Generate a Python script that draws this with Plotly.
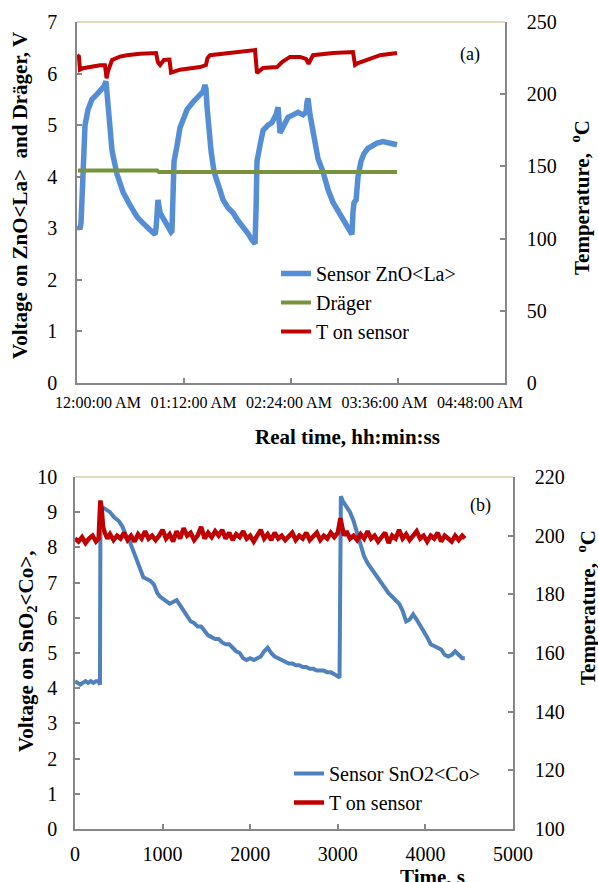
import plotly.graph_objects as go

# ---------------- Panel (a) data ----------------
# time in minutes after 12:00:00 AM
zno_t = [0.7, 2.0, 2.7, 3.4, 4.0, 5.4, 7.4, 10.1, 13.5, 16.2, 18.2, 19.5, 20.2, 21.5, 23.6, 26.9,
         31.0, 35.7, 40.4, 44.4, 47.1, 50.5, 52.5, 53.2, 53.8, 54.5, 55.9, 58.5, 61.2, 63.3, 63.9,
         64.6, 65.3, 67.3, 69.3, 72.0, 74.0, 78.1, 81.4, 84.8, 86.1, 86.8, 87.5, 88.8, 90.2, 92.2,
         95.6, 98.3, 101.6, 105.0, 108.3, 111.7, 115.1, 117.8, 119.8, 120.5, 121.1, 123.1, 125.2,
         128.5, 131.2, 133.9, 135.3, 136.6, 138.6, 142.0, 145.4, 148.7, 152.1, 154.1, 154.8, 155.4,
         156.8, 159.5, 162.2, 165.5, 168.9, 172.3, 176.3, 180.4, 183.7, 185.0, 185.7, 186.4, 187.8,
         189.1, 191.1, 193.1, 195.8, 198.5, 201.9, 205.9, 210.6, 215.3]
zno_v = [3.05, 2.98, 3.1, 3.6, 4.6, 5.0, 5.3, 5.5, 5.6, 5.7, 5.75, 5.85, 5.6, 5.0, 4.5, 4.05,
         3.7, 3.45, 3.22, 3.1, 3.03, 2.93, 2.88, 3.0, 3.5, 3.55, 3.3, 3.15, 3.0, 2.93, 2.95,
         4.0, 4.3, 4.6, 4.95, 5.15, 5.3, 5.45, 5.55, 5.65, 5.78, 5.7, 5.35, 4.9, 4.5, 4.1,
         3.8, 3.55, 3.4, 3.3, 3.15, 3.03, 2.9, 2.77, 2.7, 3.4, 4.3, 4.6, 4.9,
         5.0, 5.05, 5.2, 5.35, 4.85, 4.95, 5.15, 5.2, 5.25, 5.2, 5.25, 5.45, 5.52,
         5.2, 4.7, 4.35, 4.1, 3.75, 3.5, 3.3, 3.12, 2.95, 2.88, 3.3, 3.5, 3.55,
         4.0, 4.3, 4.45, 4.55, 4.6, 4.65, 4.68, 4.65, 4.62]

drager_t = [0.7, 54.0, 55.0, 215.3]
drager_v = [4.12, 4.12, 4.09, 4.09]

tempa_t = [0.0, 1.3, 2.0, 4.0, 15.5, 18.8, 19.9, 20.9, 23.6, 28.9, 33.6, 42.4, 53.2, 54.5, 55.9,
           58.5, 62.2, 63.3, 69.3, 82.8, 86.8, 87.8, 89.5, 105.0, 119.8, 120.5, 121.1, 125.2,
           134.6, 138.0, 143.3, 150.1, 154.1, 155.8, 158.8, 172.3, 185.7, 187.1, 189.1, 195.2,
           203.9, 215.3]
tempa_v = [227, 226, 217, 218, 220, 220, 211, 216, 223.7, 226, 227, 228, 228.5, 222, 220.2,
           223.7, 224, 215, 217, 218.8, 220.2, 225, 227, 229.2, 230.6, 222, 214.7, 218.1,
           218.8, 222.3, 225.8, 225.8, 224.5, 221, 227, 228.5, 229.2, 220.2, 221.5, 223.7,
           227, 228.5]

time_ticks = [0, 72, 144, 216, 288]
time_labels = ["12:00:00 AM", "01:12:00 AM", "02:24:00 AM", "03:36:00 AM", "04:48:00 AM"]

# ---------------- Panel (b) data ----------------
sno_t = [0, 30, 60, 90, 120, 150, 180, 210, 240, 270, 285, 290, 300, 340, 400, 450, 500, 540,
         580, 620, 660, 700, 740, 780, 820, 860, 900, 940, 970, 1000, 1040, 1080, 1120, 1160,
         1200, 1240, 1280, 1320, 1360, 1400, 1440, 1480, 1520, 1560, 1600, 1640, 1680, 1720,
         1760, 1800, 1840, 1880, 1920, 1960, 2000, 2040, 2080, 2120, 2160, 2200, 2240, 2280,
         2320, 2360, 2400, 2440, 2480, 2520, 2560, 2600, 2640, 2680, 2720, 2760, 2800, 2840,
         2880, 2920, 2960, 3000, 3020, 3035, 3060, 3100, 3140, 3180, 3220, 3260, 3300, 3340,
         3380, 3420, 3460, 3500, 3540, 3580, 3620, 3660, 3700, 3740, 3780, 3820, 3860, 3900,
         3940, 3980, 4020, 4060, 4100, 4140, 4180, 4220, 4260, 4300, 4340, 4380, 4420, 4450]
sno_v = [4.2, 4.15, 4.1, 4.15, 4.2, 4.15, 4.2, 4.15, 4.2, 4.2, 4.1, 8.5, 9.15, 9.1, 9.0, 8.85,
         8.75, 8.6, 8.35, 8.2, 7.95, 7.65, 7.4, 7.15, 7.1, 7.05, 6.95, 6.7, 6.6, 6.55, 6.45, 6.4,
         6.45, 6.5, 6.35, 6.2, 6.05, 5.9, 5.85, 5.75, 5.75, 5.6, 5.5, 5.45, 5.4, 5.4, 5.3, 5.25,
         5.25, 5.15, 5.05, 5.0, 4.85, 4.8, 4.85, 4.8, 4.85, 4.9, 5.05, 5.15, 5.0, 4.9, 4.85, 4.8,
         4.75, 4.7, 4.7, 4.65, 4.65, 4.6, 4.6, 4.55, 4.55, 4.5, 4.5, 4.5, 4.45, 4.45, 4.4, 4.35,
         4.3, 9.45, 9.3, 9.15, 9.0, 8.75, 8.4, 8.0, 7.75, 7.55, 7.4, 7.25, 7.1, 7.0, 6.85, 6.7,
         6.6, 6.5, 6.4, 6.2, 5.9, 5.95, 6.1, 5.95, 5.8, 5.65, 5.45, 5.25, 5.2, 5.15, 5.1, 4.95,
         4.9, 4.95, 5.05, 4.95, 4.85, 4.85]

tempb_t = [0, 40, 80, 120, 160, 200, 240, 270, 280, 290, 305, 320, 340, 370, 400, 440, 480, 520,
           560, 600, 640, 680, 720, 760, 800, 840, 880, 920, 960, 1000, 1040, 1080, 1120, 1160,
           1200, 1240, 1280, 1320, 1360, 1400, 1440, 1480, 1520, 1560, 1600, 1640, 1680, 1720,
           1760, 1800, 1840, 1880, 1920, 1960, 2000, 2040, 2080, 2120, 2160, 2200, 2240, 2280,
           2320, 2360, 2400, 2440, 2480, 2520, 2560, 2600, 2640, 2680, 2720, 2760, 2800, 2840,
           2880, 2920, 2960, 3000, 3030, 3045, 3070, 3100, 3140, 3180, 3220, 3260, 3300, 3340,
           3380, 3420, 3460, 3500, 3540, 3580, 3620, 3660, 3700, 3740, 3780, 3820, 3860, 3900,
           3940, 3980, 4020, 4060, 4100, 4140, 4180, 4220, 4260, 4300, 4340, 4380, 4420, 4450]
tempb_v = [199, 198, 199.5, 197.5, 199, 200, 198, 199, 206, 212, 209, 203, 201, 199, 200.5, 198.5,
           200, 199, 201, 198.5, 200, 198, 200.5, 199, 201.5, 199, 200, 198.5, 200, 202, 199,
           200.5, 198, 201.5, 199, 202.5, 200, 201, 198.5, 200, 203, 199, 201, 199.5, 201.5, 200,
           202, 199, 201, 198.5, 200.5, 199.5, 201.5, 199, 200, 198, 200, 202, 199, 200.5, 198.5,
           201, 199, 200, 198.5, 199.5, 201, 198.5, 200, 199, 201, 198.5, 199.5, 201, 198.5, 200,
           199, 201, 199.5, 201, 206, 203, 200, 201.5, 199, 200, 198.5, 200.5, 199, 201.5, 199,
           200, 198, 199.5, 201, 197.5, 200, 199, 202, 199, 200.5, 198.5, 200, 201.5, 199, 200,
           198, 200, 199, 201, 198, 200, 199, 198, 200, 198.5, 200, 199]

# ---------------- styling ----------------
W, H = 598, 882
FONT = "Liberation Serif, Times New Roman, serif"
AX = "#868686"
BLUE_A = "#558ED5"
BLUE_B = "#4F81BD"
GREEN = "#77933C"
RED = "#C00000"

# plot-area pixel boxes
A_L, A_R, A_T, A_B = 77, 505, 22, 383
B_L, B_R, B_T, B_B = 75, 513, 477, 829
# Excel spreads the date labels evenly between these centres (not on the ticks)
LAB_FIRST, LAB_LAST = 98, 480


def px(x):
    return x / W


def py(y):
    return 1 - y / H


fig = go.Figure()

fig.add_trace(go.Scatter(x=zno_t, y=zno_v, mode="lines", name="Sensor ZnO&lt;La&gt;",
                         line=dict(color=BLUE_A, width=5.5), xaxis="x", yaxis="y", legend="legend"))
fig.add_trace(go.Scatter(x=drager_t, y=drager_v, mode="lines", name="Dräger",
                         line=dict(color=GREEN, width=4), xaxis="x", yaxis="y", legend="legend"))
fig.add_trace(go.Scatter(x=tempa_t, y=tempa_v, mode="lines", name="T on sensor",
                         line=dict(color=RED, width=4), xaxis="x", yaxis="y2", legend="legend"))
# carrier (no visible marks) for the label-only time axis
fig.add_trace(go.Scatter(x=[time_ticks[0]], y=[None], mode="lines", showlegend=False,
                         hoverinfo="skip", xaxis="x3", yaxis="y"))

fig.add_trace(go.Scatter(x=sno_t, y=sno_v, mode="lines", name="Sensor SnO2&lt;Co&gt;",
                         line=dict(color=BLUE_B, width=4), xaxis="x2", yaxis="y3", legend="legend2"))
fig.add_trace(go.Scatter(x=tempb_t, y=tempb_v, mode="lines", name="T on sensor",
                         line=dict(color=RED, width=4.5), xaxis="x2", yaxis="y4", legend="legend2"))

common = dict(showgrid=False, zeroline=False, showline=True, linecolor=AX, linewidth=1.5,
              ticks="inside", ticklen=5, tickcolor=AX, tickwidth=1.5, automargin=False,
              tickfont=dict(family=FONT, size=20, color="black"))

# range of the label axis so that first/last labels sit at LAB_FIRST / LAB_LAST
span = time_ticks[-1] - time_ticks[0]
scale = (LAB_LAST - LAB_FIRST) / span
lab_r0 = time_ticks[0] - (LAB_FIRST - A_L) / scale
lab_r1 = lab_r0 + (A_R - A_L) / scale

fig.update_layout(
    width=W, height=H,
    margin=dict(l=0, r=0, t=0, b=0, autoexpand=False),
    paper_bgcolor="white", plot_bgcolor="white",
    font=dict(family=FONT, color="black"),
    xaxis=dict(common, domain=[px(A_L), px(A_R)], anchor="y", range=[0, 288],
               tickvals=time_ticks, showticklabels=False),
    xaxis3=dict(overlaying="x", anchor="y", side="bottom", range=[lab_r0, lab_r1],
                tickvals=time_ticks, ticktext=time_labels, showline=False, showgrid=False,
                zeroline=False, ticks="", automargin=False, ticklabelstandoff=8,
                tickfont=dict(family=FONT, size=16, color="black")),
    yaxis=dict(common, domain=[py(A_B), py(A_T)], anchor="x", range=[0, 7], dtick=1,
               ticklabelstandoff=14),
    yaxis2=dict(common, overlaying="y", side="right", anchor="x", range=[0, 250], dtick=50,
                ticklabelstandoff=16),
    xaxis2=dict(common, domain=[px(B_L), px(B_R)], anchor="y3", range=[0, 5000], dtick=1000,
                ticklabelstandoff=6),
    yaxis3=dict(common, domain=[py(B_B), py(B_T)], anchor="x2", range=[0, 10], dtick=1,
                ticklabelstandoff=12),
    yaxis4=dict(common, overlaying="y3", side="right", anchor="x2", range=[100, 220], dtick=20,
                ticklabelstandoff=16),
    legend=dict(x=px(276), y=py(254), xanchor="left", yanchor="top", bgcolor="rgba(0,0,0,0)",
                font=dict(family=FONT, size=20, color="black"), tracegroupgap=0),
    legend2=dict(x=px(289), y=py(754), xanchor="left", yanchor="top", bgcolor="rgba(0,0,0,0)",
                 font=dict(family=FONT, size=20, color="black"), tracegroupgap=0),
    showlegend=True,
)

# top borders of the plot areas (tan line like the original)
for xr, yr in (("x domain", "y domain"), ("x2 domain", "y3 domain")):
    fig.add_shape(type="line", xref=xr, yref=yr, x0=0, x1=1, y0=1, y1=1,
                  line=dict(color="#D4CDA8", width=1.5))

title_font = dict(family=FONT, size=21, color="black")
ann = [
    dict(text="<b>Voltage on ZnO&lt;La&gt;  and Dräger, V</b>", x=px(20), y=py(196), textangle=-90),
    dict(text="<b>Temperature,  <sup>o</sup>C</b>", x=px(580), y=py(198), textangle=-90),
    dict(text="<b>Real time, hh:min:ss</b>", x=px(348), y=py(437), textangle=0),
    dict(text="<b>Voltage on SnO<sub>2</sub>&lt;Co&gt;,</b>", x=px(27), y=py(652), textangle=-90),
    dict(text="<b>Temperature,  <sup>o</sup>C</b>", x=px(586), y=py(608), textangle=-90),
    dict(text="<b>Time, s</b>", x=px(432), y=py(877), textangle=0),
]
for a in ann:
    fig.add_annotation(xref="paper", yref="paper", showarrow=False, xanchor="center",
                       yanchor="middle", font=title_font, **a)

fig.add_annotation(text="(a)", xref="paper", yref="paper", x=px(482), y=py(42), showarrow=False,
                   font=dict(family=FONT, size=18, color="black"))
fig.add_annotation(text="(b)", xref="paper", yref="paper", x=px(493), y=py(505), showarrow=False,
                   font=dict(family=FONT, size=18, color="black"))

fig.write_html("out.html", config={"displayModeBar": False},
               post_script="document.body.style.margin='0';document.body.style.overflow='hidden';")
